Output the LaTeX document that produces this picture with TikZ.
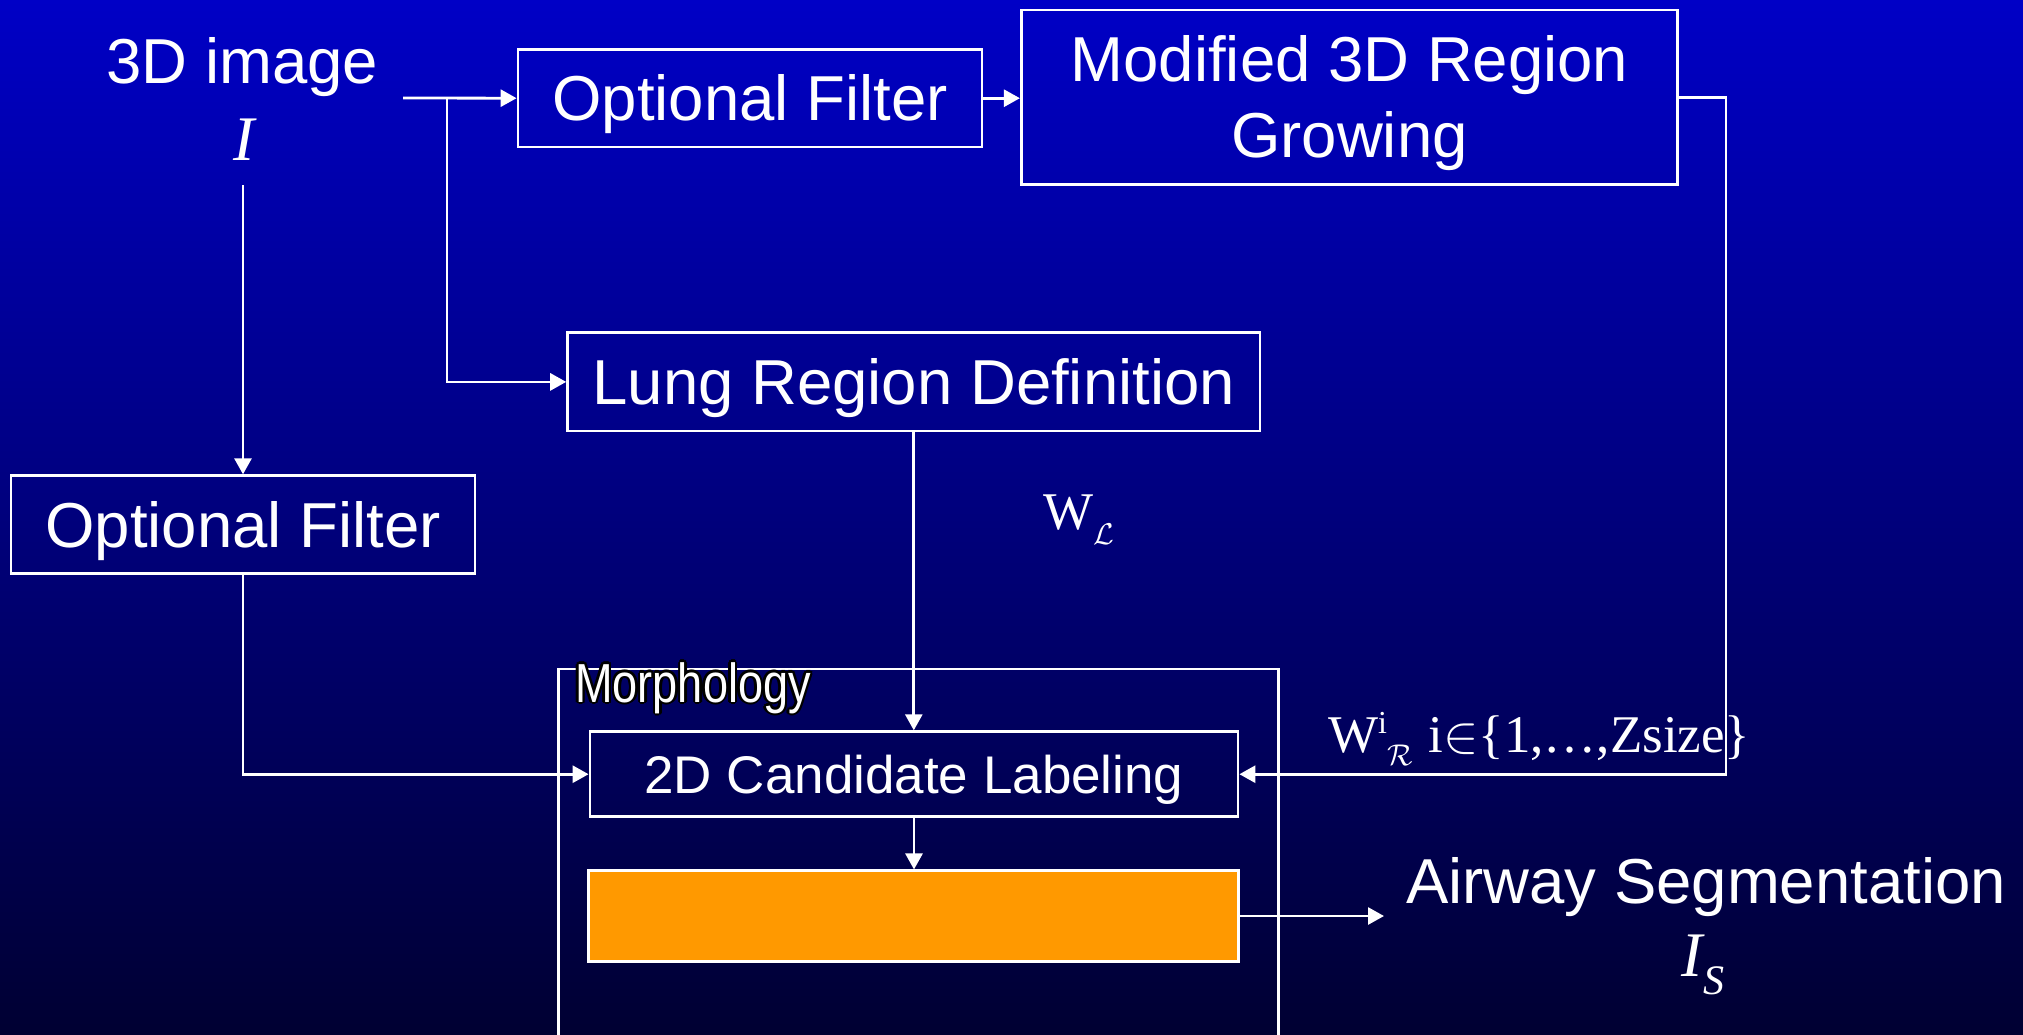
\documentclass[tikz,border=0pt]{standalone}
\usepackage{fontspec}
\setmainfont{Liberation Sans}
\newfontfamily\serif{Liberation Serif}
\usepackage{graphicx}
\usetikzlibrary{arrows.meta}
\definecolor{bgtop}{RGB}{0,0,198}
\definecolor{bgbot}{RGB}{0,0,50}
\definecolor{orng}{RGB}{255,153,0}
\newcommand\morphword{\scalebox{0.82}[1]{\fontsize{55}{60}\selectfont Morphology}}
\newcommand\bigmath[2]{\scalebox{#1}{\fontsize{10}{12}\selectfont$#2$}}
\tikzset{
  bigfont/.style={font=\fontsize{63.5}{76}\selectfont},
  box/.style={draw=white, line width=2.8pt, text=white, inner sep=0pt, align=center, bigfont},
  oneline/.style={text height=45.5pt, text depth=0pt},
  conn/.style={draw=white, line width=2.8pt},
  arr/.style={conn, -{Triangle[length=16pt,width=17pt]}},
  lbl/.style={text=white, inner sep=0pt, bigfont},
  wlbl/.style={text=white, inner sep=0pt, font=\serif\fontsize{53}{60}\selectfont},
}
\begin{document}
\begin{tikzpicture}[x=1pt,y=-1pt]
\shade[top color=bgtop,bottom color=bgbot] (0,0) rectangle (2023,1034);
\useasboundingbox (0,0) rectangle (2023,1034);

% input
\node[lbl, anchor=base] (img) at (242.5,83) {3D image};
\node[lbl, anchor=base] (imgI) at (244,160) {\serif\itshape I};
\coordinate (src) at (403,98);
\coordinate (jn) at (447,98);
\coordinate (Ibot) at (243,185);
\coordinate (rcol) at (1726,500);
\coordinate (out) at (1384,918);

% boxes
\node[box, oneline, minimum width=464pt, minimum height=97.7pt] (ofTop) at (750,98.2) {Optional Filter};
\node[box, minimum width=656.4pt, minimum height=174.3pt] (mrg) at (1349.5,97.2)
  {\raisebox{0pt}[45.5pt][0pt]{Modified 3D Region}\\\raisebox{0pt}[45.5pt][0pt]{Growing}};
\node[box, oneline, minimum width=692.4pt, minimum height=98.3pt] (lung) at (913.8,381.9) {Lung Region Definition};
\node[box, oneline, minimum width=464pt, minimum height=97.6pt] (ofLeft) at (243,524.5) {Optional Filter};
\node[draw=white, line width=2.8pt, anchor=north west, outer sep=0pt, minimum width=720pt, minimum height=420pt, inner sep=0pt] (morph) at (558.4,669) {};
\node[box, oneline, font=\fontsize{53}{64}\selectfont, text height=38pt, minimum width=648pt, minimum height=85pt] (cand) at (914,774.2) {2D Candidate Labeling};
\node[draw=white, fill=orng, line width=2.8pt, minimum width=649.6pt, minimum height=90.3pt, inner sep=0pt] (orange) at (913.5,916) {};

% Morphology label with black outline
\foreach \a [count=\k] in {0,45,...,315}
  \node[anchor=base west, inner sep=0pt, text=black, name=mo\k] at ([shift={(\a:2.6)}]575,702) {\morphword};
\node[anchor=base west, inner sep=0pt, text=white] (mlbl) at (575,702) {\morphword};

% labels
\node[wlbl, anchor=base west] (wl) at (1043,529) {W\raisebox{-15pt}{\bigmath{3}{\mathcal{L}}}};
\node[wlbl, anchor=base west] (wr) at (1328,752) {W\raisebox{19pt}{\fontsize{32}{32}\selectfont i}\raisebox{-13pt}{\bigmath{3}{\mathcal{R}}}\hspace{16pt}i\bigmath{5.3}{\in}\{1,…,Zsize\}};
\node[lbl, anchor=base] (aw) at (1706,903) {Airway Segmentation};
\node[lbl, anchor=base] (is) at (1703,976) {\serif\itshape I\raisebox{-18pt}{\fontsize{42}{42}\selectfont S}};

% connectors
\draw[arr] (src) -- (ofTop.west);
\draw[arr] (jn) |- (lung.west);
\draw[arr] (ofTop.east) -- (ofTop.east -| mrg.west);
\draw[arr] (mrg.east) -| (cand.east -| rcol) -- (cand.east);
\draw[arr] (Ibot) -- (ofLeft.north);
\draw[arr] (ofLeft.south) |- (cand.west);
\draw[arr] (lung.south) -- (lung.south |- cand.north);
\draw[arr] (cand.south) -- (cand.south |- orange.north);
\draw[arr] (orange.east) -- (orange.east -| out);
\end{tikzpicture}
\end{document}
